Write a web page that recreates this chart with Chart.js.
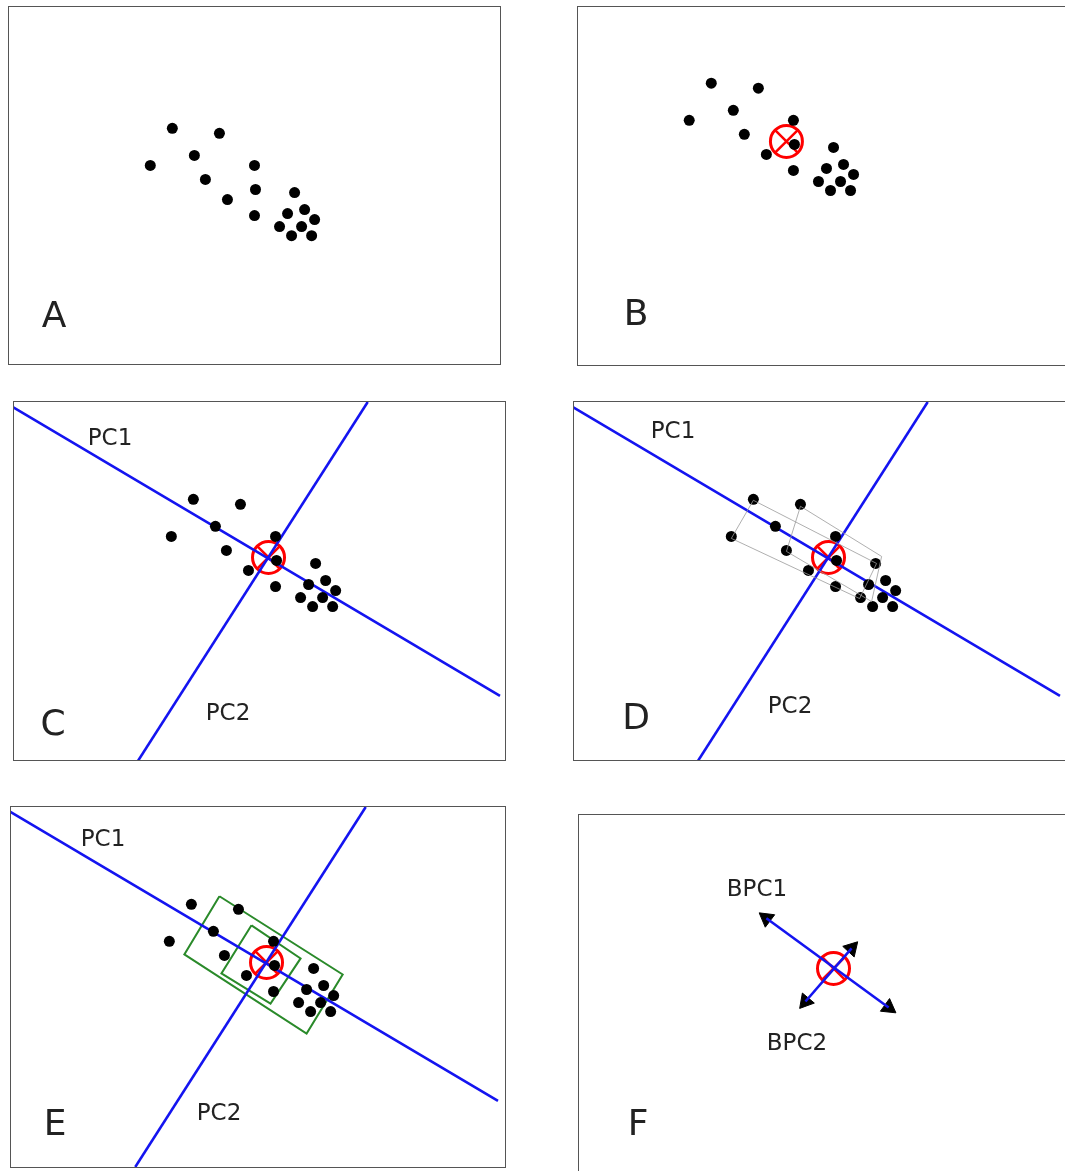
<!DOCTYPE html>
<html>
<head>
<meta charset="utf-8">
<script src="https://cdn.jsdelivr.net/npm/chart.js"></script>
<style>
  body { margin: 0; width: 1065px; height: 1171px; overflow: hidden; background: #fff; font-family: 'DejaVu Sans', sans-serif; }
  .panel { position: absolute; border: 1.5px solid #555; box-sizing: border-box; background: #fff; }
  .panel canvas { display: block; }
  .lbl { position: absolute; transform: translate(-50%, -50%); color: #222; white-space: nowrap; }
  .big { font-size: 36px; }
  .small { font-size: 23px; }
</style>
</head>
<body>

<script>
// pontos (mesma nuvem em todos os paineis)
const dotX = [163, 210, 141, 185, 245, 196, 246, 285, 218, 245, 278, 295, 305, 270, 292, 282, 302];
const dotY = [121, 126, 158, 148, 158, 172, 182, 185, 192, 208, 206, 202, 212, 219, 219, 228, 228];

// media
const meanX = [238];
const meanY = [179];

// eixos principais
const pc1X = [-19, 469];
const pc1Y = [28, 317];
const pc2X = [107, 337];
const pc2Y = [383, 24];

// linhas cinza do painel D (cada par = um segmento)
const greyX = [163, 286, 210, 291, 141, 269, 196, 281, 163, 141, 210, 196, 286, 269, 291, 281];
const greyY = [122, 185, 128, 178, 160, 220, 173, 223, 122, 160, 128, 173, 185, 220, 178, 223];

// caixas verdes do painel E
const bigBoxX = [191, 314, 278, 156, 191];
const bigBoxY = [113, 191, 250, 171, 113];
const smallBoxX = [223, 272, 242, 193, 223];
const smallBoxY = [142, 175, 220, 190, 142];

// setas do painel F
const bpc1X = [171, 293];
const bpc1Y = [129, 218];
const bpc2X = [256, 210];
const bpc2Y = [159, 212];
const headX = [171, 293, 256, 210];
const headY = [129, 218, 159, 212];
const headRot = [-53, 126, 43, -140];

function pts(xs, ys) {
  return xs.map((x, i) => ({ x: x, y: ys[i] }));
}

function dots() {
  return { data: pts(dotX, dotY), pointRadius: 5.5, pointBackgroundColor: '#000', pointBorderWidth: 0, showLine: false };
}
function meanMark() {
  return [
    { data: pts(meanX, meanY), pointStyle: 'circle', pointRadius: 16, pointBorderColor: '#f00', pointBackgroundColor: 'rgba(0,0,0,0)', pointBorderWidth: 3, showLine: false },
    { data: pts(meanX, meanY), pointStyle: 'crossRot', pointRadius: 16, pointBorderColor: '#f00', pointBorderWidth: 2.5, showLine: false }
  ];
}
function seg(xs, ys, color, w) {
  return { type: 'line', data: pts(xs, ys), borderColor: color, borderWidth: w, pointRadius: 0, tension: 0 };
}
function pcLines() {
  return [seg(pc1X, pc1Y, '#1414f0', 2.6), seg(pc2X, pc2Y, '#1414f0', 2.6)];
}
function greyLines() {
  const out = [];
  for (let i = 0; i < greyX.length; i += 2) {
    out.push(seg(greyX.slice(i, i + 2), greyY.slice(i, i + 2), '#9a9a9a', 0.8));
  }
  return out;
}

function panel(box, view, datasets, labels) {
  const div = document.createElement('div');
  div.className = 'panel';
  div.style.left = box[0] + 'px';
  div.style.top = box[1] + 'px';
  div.style.width = box[2] + 'px';
  div.style.height = box[3] + 'px';
  const cv = document.createElement('canvas');
  div.appendChild(cv);
  document.body.appendChild(div);

  labels.forEach(function (l) {
    const t = document.createElement('div');
    t.className = 'lbl ' + l[3];
    t.textContent = l[0];
    t.style.left = l[1] + 'px';
    t.style.top = l[2] + 'px';
    document.body.appendChild(t);
  });

  new Chart(cv, {
    type: 'scatter',
    data: { datasets: datasets },
    options: {
      responsive: true,
      maintainAspectRatio: false,
      animation: false,
      events: [],
      layout: { padding: 0, autoPadding: false },
      plugins: { legend: { display: false }, tooltip: { enabled: false } },
      scales: {
        x: { type: 'linear', display: false, min: view[0], max: view[0] + box[2] - 3 },
        y: { type: 'linear', display: false, reverse: true, min: view[1], max: view[1] + box[3] - 3 }
      }
    }
  });
}

// A
panel([8, 6, 493, 359], [0, 0], [dots()], [['A', 54, 314, 'big']]);

// B
panel([577, 6, 500, 360], [30, 45], [dots()].concat(meanMark()), [['B', 636, 312, 'big']]);

// C
panel([13, 401, 493, 360], [-16, 24], [dots()].concat(pcLines(), meanMark()),
  [['C', 53, 722, 'big'], ['PC1', 110, 437, 'small'], ['PC2', 228, 712, 'small']]);

// D
panel([573, 401, 500, 360], [-16, 24], greyLines().concat([dots()], pcLines(), meanMark()),
  [['D', 636, 716, 'big'], ['PC1', 673, 430, 'small'], ['PC2', 790, 705, 'small']]);

// E
panel([10, 806, 496, 362], [-17, 24],
  [dots()].concat(pcLines(), [seg(bigBoxX, bigBoxY, '#2a8a2a', 2), seg(smallBoxX, smallBoxY, '#2a8a2a', 2)], meanMark()),
  [['E', 55, 1122, 'big'], ['PC1', 103, 838, 'small'], ['PC2', 219, 1112, 'small']]);

// F
panel([578, 814, 500, 370], [-16, 26],
  [seg(bpc1X, bpc1Y, '#1414f0', 2.6), seg(bpc2X, bpc2Y, '#1414f0', 2.6),
   { data: pts(headX, headY), pointStyle: 'triangle', pointRadius: 9, pointRotation: headRot, pointBackgroundColor: '#000', pointBorderColor: '#000', pointBorderWidth: 1, showLine: false }
  ].concat(meanMark()),
  [['F', 638, 1122, 'big'], ['BPC1', 757, 888, 'small'], ['BPC2', 797, 1042, 'small']]);
</script>
</body>
</html>
